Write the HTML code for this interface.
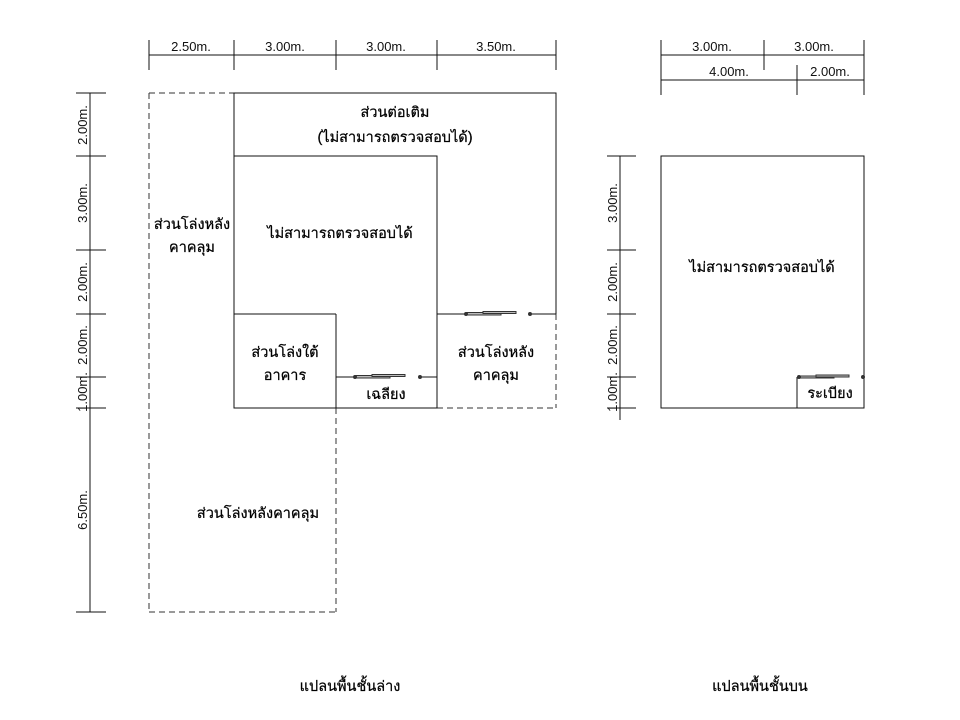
<!DOCTYPE html>
<html><head><meta charset="utf-8"><style>
html,body{margin:0;padding:0;background:#fff;}
svg{display:block;}
text{font-family:"Liberation Sans","Noto Sans CJK SC",sans-serif;font-size:13px;fill:#111;}
.t{font-size:14.5px;fill:#000;stroke:#000;stroke-width:0.25px;}
</style></head><body>
<svg width="960" height="720" viewBox="0 0 960 720" xmlns="http://www.w3.org/2000/svg">
<g stroke="#111" stroke-width="1" fill="none">
<line x1="149" y1="55" x2="556" y2="55"/>
<line x1="149" y1="40" x2="149" y2="70"/><line x1="234" y1="40" x2="234" y2="70"/>
<line x1="336" y1="40" x2="336" y2="70"/><line x1="437" y1="40" x2="437" y2="70"/>
<line x1="556" y1="40" x2="556" y2="70"/>
<line x1="90" y1="93" x2="90" y2="612"/>
<line x1="76" y1="93" x2="106" y2="93"/><line x1="76" y1="156" x2="106" y2="156"/>
<line x1="76" y1="250" x2="106" y2="250"/><line x1="76" y1="314" x2="106" y2="314"/>
<line x1="76" y1="377" x2="106" y2="377"/><line x1="76" y1="408" x2="106" y2="408"/>
<line x1="76" y1="612" x2="106" y2="612"/>
<g stroke-dasharray="6,4" stroke="#333">
<line x1="149" y1="93" x2="234" y2="93"/>
<line x1="149" y1="93" x2="149" y2="612"/>
<line x1="149" y1="612" x2="336" y2="612"/>
<line x1="336" y1="408" x2="336" y2="612"/>
<line x1="556" y1="314" x2="556" y2="408"/>
<line x1="437" y1="408" x2="556" y2="408"/>
</g>
<polyline points="556,314 556,93 234,93 234,408 437,408 437,156 234,156"/>
<line x1="234" y1="314" x2="336" y2="314"/>
<line x1="336" y1="314" x2="336" y2="408"/>
<line x1="336" y1="377" x2="355" y2="377"/><line x1="420" y1="377" x2="437" y2="377"/>
<line x1="437" y1="314" x2="466" y2="314"/><line x1="530" y1="314" x2="556" y2="314"/>
<line x1="661" y1="55" x2="864" y2="55"/>
<line x1="661" y1="80" x2="864" y2="80"/>
<line x1="661" y1="40" x2="661" y2="95"/><line x1="764" y1="40" x2="764" y2="70"/>
<line x1="797" y1="65" x2="797" y2="95"/><line x1="864" y1="40" x2="864" y2="95"/>
<line x1="620" y1="156" x2="620" y2="420"/>
<line x1="607" y1="156" x2="636" y2="156"/><line x1="607" y1="250" x2="636" y2="250"/>
<line x1="607" y1="314" x2="636" y2="314"/><line x1="607" y1="377" x2="636" y2="377"/>
<line x1="607" y1="408" x2="636" y2="408"/>
<rect x="661" y="156" width="203" height="252"/>
<line x1="797" y1="377" x2="797" y2="408"/>
</g>
<g stroke="#333" stroke-width="1" fill="#bbb">
<rect x="355" y="375.5" width="35" height="2.5"/><rect x="372" y="374.5" width="33" height="2"/>
<circle cx="355" cy="377" r="1.5" fill="#333"/><circle cx="420" cy="377" r="1.5" fill="#333"/>
<rect x="466" y="312.5" width="35" height="2.5"/><rect x="483" y="311.5" width="33" height="2"/>
<circle cx="466" cy="314" r="1.5" fill="#333"/><circle cx="530" cy="314" r="1.5" fill="#333"/>
<rect x="799" y="376" width="35" height="2"/><rect x="816" y="375" width="33" height="2"/>
<circle cx="799" cy="377" r="1.5" fill="#333"/><circle cx="863" cy="377" r="1.5" fill="#333"/>
</g>
<g text-anchor="middle">
<text x="191" y="51">2.50m.</text><text x="285" y="51">3.00m.</text>
<text x="386" y="51">3.00m.</text><text x="496" y="51">3.50m.</text>
<text x="712" y="51">3.00m.</text><text x="814" y="51">3.00m.</text>
<text x="729" y="76">4.00m.</text><text x="830" y="76">2.00m.</text>
<text transform="translate(87,125) rotate(-90)">2.00m.</text>
<text transform="translate(87,203) rotate(-90)">3.00m.</text>
<text transform="translate(87,282) rotate(-90)">2.00m.</text>
<text transform="translate(87,345) rotate(-90)">2.00m.</text>
<text transform="translate(87,392) rotate(-90)">1.00m.</text>
<text transform="translate(87,510) rotate(-90)">6.50m.</text>
<text transform="translate(617,203) rotate(-90)">3.00m.</text>
<text transform="translate(617,282) rotate(-90)">2.00m.</text>
<text transform="translate(617,345) rotate(-90)">2.00m.</text>
<text transform="translate(617,392) rotate(-90)">1.00m.</text>
<text class="t" x="395" y="117">ส่วนต่อเติม</text>
<text class="t" x="395" y="142">(ไม่สามารถตรวจสอบได้)</text>
<text class="t" x="340" y="238">ไม่สามารถตรวจสอบได้</text>
<text class="t" x="192" y="229">ส่วนโล่งหลัง</text>
<text class="t" x="192" y="252">คาคลุม</text>
<text class="t" x="285" y="357">ส่วนโล่งใต้</text>
<text class="t" x="285" y="380">อาคาร</text>
<text class="t" x="386" y="399">เฉลียง</text>
<text class="t" x="496" y="357">ส่วนโล่งหลัง</text>
<text class="t" x="496" y="380">คาคลุม</text>
<text class="t" x="258" y="518">ส่วนโล่งหลังคาคลุม</text>
<text class="t" x="762" y="272">ไม่สามารถตรวจสอบได้</text>
<text class="t" x="830" y="398">ระเบียง</text>
<text class="t" x="350" y="691">แปลนพื้นชั้นล่าง</text>
<text class="t" x="760" y="691">แปลนพื้นชั้นบน</text>
</g>
</svg>
</body></html>
